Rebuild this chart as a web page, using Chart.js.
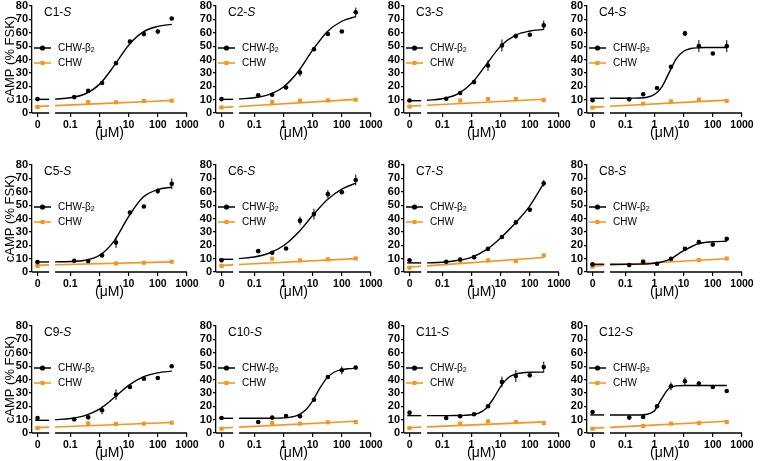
<!DOCTYPE html>
<html>
<head>
<meta charset="utf-8">
<script src="https://cdn.jsdelivr.net/npm/chart.js@4.4.1/dist/chart.umd.min.js"></script>
<style>
  body { margin: 0; background: #fff; width: 760px; height: 461px; position: relative; overflow: hidden; }
  canvas { position: absolute; }
</style>
</head>
<body>
<script>
// doses in µM (0 = vehicle, drawn on the split-off part of the x axis)
const doses = [0, 0.137, 0.412, 1.23, 3.7, 11.1, 33.3, 100, 300];
const chwDoses = [0, 0.412, 3.7, 33.3, 300];
const xTickDoses = [0, 0.1, 1, 10, 100, 1000];
const xTickLabels = ['0', '0.1', '1', '10', '100', '1000'];

const panelNames = ['C1', 'C2', 'C3', 'C4', 'C5', 'C6', 'C7', 'C8', 'C9', 'C10', 'C11', 'C12'];

// CHW-β2 cells, mean cAMP (% FSK) at each dose
const b2Values = [
  [10.4, 11.9, 16.6, 22.4, 37.3, 53.4, 59.0, 60.9, 70.6],
  [10.4, 13.2, 13.7, 19.1, 30.3, 47.7, 59.1, 60.9, 75.3],
  [9.4, 10.7, 14.9, 23.1, 35.5, 50.5, 57.5, 58.5, 65.5],
  [9.5, 10.2, 14.0, 18.7, 34.5, 59.5, 50.0, 44.5, 50.0],
  [7.4, 8.4, 8.2, 12.4, 22.0, 44.5, 49.0, 60.5, 66.0],
  [8.7, 15.6, 14.4, 17.6, 38.4, 43.3, 58.2, 59.7, 68.8],
  [8.7, 7.7, 9.4, 11.1, 17.3, 26.2, 37.1, 46.5, 66.3],
  [5.7, 5.2, 7.5, 6.2, 9.9, 17.3, 22.3, 20.5, 24.8],
  [11.2, 10.2, 11.7, 17.0, 28.7, 34.4, 40.6, 41.1, 49.9],
  [11.2, 8.2, 11.5, 12.7, 12.5, 24.9, 41.9, 46.9, 48.9],
  [15.2, 11.2, 12.5, 14.0, 20.0, 38.2, 42.6, 43.1, 49.4],
  [15.7, 11.5, 12.0, 20.0, 34.9, 38.7, 36.9, 34.4, 31.4]
];
const b2Err = [
  [0, 0, 0, 0, 0, 1.5, 0, 2, 0],
  [0, 0, 1, 0, 3, 1.5, 0, 0, 3.5],
  [0, 0, 0, 0, 4, 4.5, 2, 1.5, 3.5],
  [0, 0, 0, 0, 0, 2, 4.5, 0, 4.5],
  [0, 0, 0, 0, 4, 0, 0, 2, 4],
  [0, 0, 0, 0, 3, 4, 3, 0, 4],
  [0, 0, 0, 1.5, 0, 1.5, 0, 1.5, 2.5],
  [0, 0, 0, 0, 1, 1, 1, 1, 0],
  [0, 0, 0, 3, 4, 0, 0, 0, 0],
  [0, 0, 0, 0, 0, 0, 0, 3, 0],
  [0, 0, 0, 0, 0, 4, 4.5, 0, 4],
  [0, 0, 0, 0, 3, 3, 2, 0, 0]
];
// parental CHW cells
const chwValues = [
  [4.5, 8.2, 8.0, 9.0, 9.2],
  [4.2, 8.2, 9.2, 9.4, 9.9],
  [4.8, 9.4, 10.4, 10.4, 9.6],
  [4.0, 7.0, 8.7, 10.0, 9.0],
  [4.5, 7.4, 6.4, 6.9, 7.7],
  [4.5, 9.9, 8.7, 9.4, 10.1],
  [3.2, 7.7, 8.7, 8.2, 12.4],
  [4.0, 8.2, 8.9, 8.9, 10.1],
  [3.7, 7.2, 6.7, 7.0, 7.7],
  [3.2, 7.5, 7.0, 8.0, 8.2],
  [3.7, 7.0, 8.7, 8.2, 7.5],
  [3.2, 5.2, 7.0, 7.5, 8.2]
];

// fitted curves (x in log10 µM)
const fitHalfX = [-1.52, -1, -0.5, 0, 0.5, 1, 1.5, 2, 2.48];
const fitQuarterX = [-1.52, -1.25, -1, -0.75, -0.5, -0.25, 0, 0.25, 0.5, 0.75, 1, 1.25, 1.5, 1.75, 2, 2.25, 2.48];
const b2FitGrid = ['h', 'h', 'h', 'q', 'h', 'h', 'h', 'h', 'h', 'q', 'q', 'q'];
const b2Fit = [
  [10.4, 11.4, 14.2, 21.4, 35.2, 50.7, 60.6, 64.8, 66.3],
  [10.5, 11.4, 13.7, 19.4, 30.8, 47.0, 60.8, 68.6, 72.0],
  [9.5, 10.7, 13.9, 22.0, 36.0, 50.0, 58.1, 61.3, 62.5],
  [11, 11, 11, 11.1, 11.2, 11.8, 13.8, 19.4, 30, 40.6, 46.2, 48.2, 48.8, 49, 49, 49, 49],
  [7.6, 7.8, 8.8, 12.4, 23.1, 41.5, 56.0, 61.7, 63.4],
  [10.0, 11.2, 14.0, 19.6, 29.3, 42.2, 54.0, 62.0, 66.4],
  [6.8, 7.3, 8.6, 11.0, 16.5, 25.5, 36.5, 49.5, 66.5],
  [5.8, 5.8, 5.9, 6.5, 9.2, 15.9, 21.1, 22.6, 23.0],
  [10.0, 10.8, 13.0, 17.9, 26.3, 35.6, 42.0, 45.0, 46.3],
  [11, 11, 11, 11, 11, 11.1, 11.3, 11.9, 13.4, 17, 24.1, 33.6, 41.4, 45.6, 47.4, 48.1, 48.4],
  [13, 13, 13, 13, 13.1, 13.2, 13.6, 14.9, 18.4, 25.6, 34.7, 41.1, 44, 45, 45.4, 45.5, 45.5],
  [13.5, 13.5, 13.5, 13.5, 13.5, 14, 16.7, 25.8, 33.4, 35.2, 35.5, 35.5, 35.5, 35.5, 35.5, 35.5, 35.5]
];
const b2FitZero = [10.2, 10.2, 9.2, 11, 7.5, 9.5, 6.8, 5.8, 9.5, 11, 13, 13.5];
// CHW straight fit: values at the ends of both axis pieces
const chwFitX = [-2.2, -1.72, -1.52, 2.48];
const chwFit = [
  [4.8, 5.3, 5.5, 9.3],
  [4.0, 4.6, 4.9, 10.2],
  [5.0, 5.5, 5.8, 10.3],
  [4.2, 4.8, 5.0, 9.6],
  [5.0, 5.3, 5.4, 7.6],
  [4.8, 5.3, 5.6, 10.0],
  [3.5, 4.3, 4.6, 10.8],
  [4.3, 4.9, 5.1, 9.9],
  [4.0, 4.4, 4.5, 7.8],
  [3.6, 4.1, 4.4, 8.8],
  [3.9, 4.4, 4.6, 8.3],
  [3.5, 4.0, 4.2, 8.8]
];

const ZERO_POS = -2.12;
const BREAK_FROM = -1.72, BREAK_TO = -1.52;
const ORANGE = '#f7931e';
const FONT = 'Arial, "Liberation Sans", sans-serif';

function pos(d) {
  return d === 0 ? ZERO_POS : Math.log10(d);
}

Chart.defaults.font.family = FONT;
Chart.defaults.color = '#000';

const colAxisX = [32, 216, 404, 587];
const rowTop = [6, 165, 326];

const decor = {
  id: 'decor',
  beforeDatasetsDraw(chart) {
    const ctx = chart.ctx, ca = chart.chartArea;
    const xs = chart.scales.x, ys = chart.scales.y;
    const i = chart.options.panelIndex;
    // broken x axis
    ctx.save();
    ctx.strokeStyle = '#000';
    ctx.lineWidth = 1.3;
    ctx.beginPath();
    ctx.moveTo(ca.left, ca.bottom);
    ctx.lineTo(xs.getPixelForValue(BREAK_FROM), ca.bottom);
    ctx.moveTo(xs.getPixelForValue(BREAK_TO), ca.bottom);
    ctx.lineTo(ca.right, ca.bottom);
    ctx.stroke();
    // error bars
    ctx.lineWidth = 1;
    ctx.beginPath();
    doses.forEach((d, k) => {
      const e = b2Err[i][k];
      if (!e) return;
      const px = xs.getPixelForValue(pos(d));
      ctx.moveTo(px, ys.getPixelForValue(b2Values[i][k] + e));
      ctx.lineTo(px, ys.getPixelForValue(b2Values[i][k] - e));
    });
    ctx.stroke();
    ctx.restore();
  },
  afterDraw(chart) {
    const ctx = chart.ctx, ca = chart.chartArea;
    const i = chart.options.panelIndex;
    ctx.save();
    ctx.fillStyle = '#000';
    ctx.textBaseline = 'top';
    ctx.font = '12px ' + FONT;
    const t = panelNames[i] + '-';
    ctx.fillText(t, ca.left + 12, ca.top + 1);
    const w = ctx.measureText(t).width;
    ctx.font = 'italic 12px ' + FONT;
    ctx.fillText('S', ca.left + 12 + w, ca.top + 1);

    // legend
    const y1 = ca.top + 42, y2 = ca.top + 57;
    ctx.lineWidth = 1.5;
    ctx.strokeStyle = '#000';
    ctx.beginPath();
    ctx.moveTo(ca.left + 2, y1);
    ctx.lineTo(ca.left + 19, y1);
    ctx.stroke();
    ctx.beginPath();
    ctx.arc(ca.left + 10.5, y1, 2.6, 0, Math.PI * 2);
    ctx.fill();
    ctx.strokeStyle = ORANGE;
    ctx.fillStyle = ORANGE;
    ctx.beginPath();
    ctx.moveTo(ca.left + 2, y2);
    ctx.lineTo(ca.left + 19, y2);
    ctx.stroke();
    ctx.fillRect(ca.left + 8.5, y2 - 2, 4, 4);

    ctx.fillStyle = '#000';
    ctx.textBaseline = 'middle';
    ctx.font = '10px ' + FONT;
    ctx.fillText('CHW-β', ca.left + 26, y1);
    const bw = ctx.measureText('CHW-β').width;
    ctx.font = '7px ' + FONT;
    ctx.fillText('2', ca.left + 26 + bw, y1 + 2);
    ctx.font = '10px ' + FONT;
    ctx.fillText('CHW', ca.left + 26, y2);
    ctx.restore();
  }
};

panelNames.forEach((name, i) => {
  const col = i % 4, row = Math.floor(i / 4);
  const cv = document.createElement('canvas');
  cv.width = 200;
  cv.height = 150;
  cv.style.left = (colAxisX[col] - 32) + 'px';
  cv.style.top = (rowTop[row] - 6) + 'px';
  document.body.appendChild(cv);

  const fx = b2FitGrid[i] === 'q' ? fitQuarterX : fitHalfX;

  new Chart(cv, {
    type: 'scatter',
    data: {
      datasets: [
        {
          data: doses.map((d, k) => ({ x: pos(d), y: b2Values[i][k] })),
          pointStyle: 'circle', pointRadius: 2.3,
          backgroundColor: '#000', borderColor: '#000', borderWidth: 0
        },
        {
          data: chwDoses.map((d, k) => ({ x: pos(d), y: chwValues[i][k] })),
          pointStyle: 'rect', pointRadius: 2.9,
          backgroundColor: ORANGE, borderColor: ORANGE, borderWidth: 0
        },
        {
          data: fx.map((x, k) => ({ x: x, y: b2Fit[i][k] })),
          showLine: true, pointRadius: 0, borderColor: '#000', borderWidth: 1.4,
          cubicInterpolationMode: 'monotone'
        },
        {
          data: [{ x: -2.2, y: b2FitZero[i] }, { x: BREAK_FROM, y: b2FitZero[i] }],
          showLine: true, pointRadius: 0, borderColor: '#000', borderWidth: 1.4
        },
        {
          data: [{ x: chwFitX[0], y: chwFit[i][0] }, { x: chwFitX[1], y: chwFit[i][1] }],
          showLine: true, pointRadius: 0, borderColor: ORANGE, borderWidth: 1.6
        },
        {
          data: [{ x: chwFitX[2], y: chwFit[i][2] }, { x: chwFitX[3], y: chwFit[i][3] }],
          showLine: true, pointRadius: 0, borderColor: ORANGE, borderWidth: 1.6
        }
      ]
    },
    options: {
      panelIndex: i,
      responsive: false,
      animation: false,
      devicePixelRatio: 1,
      layout: { padding: { left: 0, top: 6, right: 13, bottom: 0 } },
      plugins: { legend: { display: false }, tooltip: { enabled: false } },
      scales: {
        x: {
          type: 'linear', min: -2.31, max: 3,
          afterBuildTicks: s => { s.ticks = xTickDoses.map(d => ({ value: pos(d) })); },
          afterFit: s => { s.height = 37; s.paddingLeft = 0; s.paddingRight = 0; },
          ticks: {
            autoSkip: false, maxRotation: 0, padding: 2,
            font: { size: 10.5, weight: 'bold' },
            callback: (v, k) => xTickLabels[k]
          },
          grid: { drawOnChartArea: false, drawTicks: true, tickLength: 4, color: '#000', lineWidth: 1.2 },
          border: { display: false },
          title: { display: true, text: '(μM)', font: { size: 14 }, padding: { top: 0, bottom: 8 } }
        },
        y: {
          min: 0, max: 80,
          afterFit: s => { s.width = 32; s.paddingTop = 0; s.paddingBottom = 0; },
          ticks: { stepSize: 10, autoSkip: false, padding: 1, font: { size: 11, weight: 'bold' } },
          grid: { drawOnChartArea: false, drawTicks: true, tickLength: 3, color: '#000', lineWidth: 1.2 },
          border: { display: true, color: '#000', width: 1.3 },
          title: { display: col === 0, text: 'cAMP (% FSK)', font: { size: 13 }, padding: { top: 3, bottom: 0 } }
        }
      }
    },
    plugins: [decor]
  });
});
</script>
</body>
</html>
